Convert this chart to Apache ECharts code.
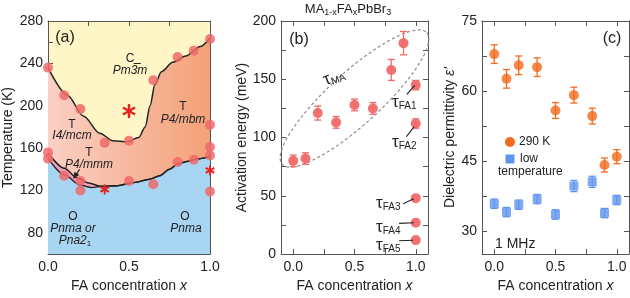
<!DOCTYPE html>
<html>
<head>
<meta charset="utf-8">
<script src="https://cdn.jsdelivr.net/npm/echarts@6/dist/echarts.min.js"></script>
<style>
  html, body { margin: 0; padding: 0; background: #fff; }
  #chart { width: 630px; height: 298px; }
</style>
</head>
<body>
<div id="chart"></div>
<script>
const FONT = '"Liberation Sans", Arial, sans-serif';
const INK = '#222';
const AXIS = '#555';

// (a) phase diagram: boundaries and measured transitions (x, T in K)
const ctBoundary = [[0, 236], [0.12, 210], [0.22, 190], [0.32, 174], [0.4, 167], [0.49, 166], [0.56, 170],
  [0.6, 180], [0.63, 200], [0.66, 220], [0.7, 232], [0.77, 241], [0.85, 247], [0.94, 256], [1, 264]];
const toBoundary = [[0, 155.5], [0.1, 141], [0.18, 132], [0.25, 127], [0.33, 124], [0.42, 124.5], [0.53, 127.5],
  [0.63, 130.7], [0.69, 134], [0.75, 140], [0.8, 145], [0.86, 147.5], [0.93, 150], [1, 152.5]];
const mmmLower = [[0, 150.5], [0.1, 135], [0.2, 125], [0.27, 122.8], [0.33, 124]];
const phaseDots = [[0, 236], [0.1, 210], [0.2, 197], [0.35, 165], [0.5, 167], [0.65, 224], [0.8, 246], [0.9, 252],
  [1, 263], [1, 182], [0, 156], [0, 150], [0.1, 134], [0.2, 129], [0.2, 120], [0.5, 129], [0.65, 126],
  [0.8, 147], [0.9, 149], [1, 161], [1, 153], [1, 119]];
const bigStar = [[0.5, 195]];
const smallStars = [[0.35, 121], [1, 139]];
const mmmArrow = [[0.195, 140, 0.158, 131.5]];

// (b) activation energies (meV)
const xMA = [0, 0.1, 0.2, 0.35, 0.5, 0.65, 0.8, 0.9];
const eaMA = [80, 82, 121, 113, 128, 125, 158, 181];
const eaMAErr = [5, 5, 6, 5, 5, 5, 9, 10];
const eaFA = [145, 112, 48, 27, 12];
const eaFAErr = [4, 4, 0, 0, 0];
const tauFA = ['FA1', 'FA2', 'FA3', 'FA4', 'FA5'];
const faLeaders = [[0.927, 137, 0.992, 144.7], [0.924, 100.8, 0.986, 109.2], [0.897, 43.3, 0.984, 47.5],
  [0.864, 26.4, 0.984, 26.9], [0.864, 11.4, 0.978, 11.9]];
const maEllipseEnds = [[-0.09, 77, 1.09, 190]];

// (c) dielectric permittivity at 1 MHz
const xEps = [0, 0.1, 0.2, 0.35, 0.5, 0.65, 0.8, 0.9, 1.0];
const eps290 = [67.9, 62.6, 65.5, 65.1, 55.8, 59.1, 54.6, 44.1, 45.9];
const eps290Err = [2, 2, 2, 2, 1.7, 1.7, 1.7, 1.5, 1.5];
const epsLow = [35.8, 34.0, 35.6, 36.8, 33.5, 39.6, 40.5, 33.8, 36.6];
const epsLowErr = [1, 1, 1, 1, 1, 1.2, 1.2, 1, 1];

const chart = echarts.init(document.getElementById('chart'));

const nameStyle = {
  fontSize: 14, color: INK, fontFamily: FONT,
  rich: { i: { fontSize: 14, color: INK, fontFamily: FONT, fontStyle: 'italic' } },
};

// main axis + mirrored axis with inward ticks
const mkAxes = (dir, grid, min, max, ticks, labels, fmt, name, gap) => {
  const base = {
    type: 'value', gridIndex: grid, min, max,
    splitLine: { show: false },
    axisLine: { onZero: false, lineStyle: { color: AXIS, width: 1 } },
    axisTick: { inside: true, length: 5, customValues: ticks, lineStyle: { color: AXIS } },
  };
  return [
    {
      ...base,
      position: dir === 'x' ? 'bottom' : 'left',
      axisLabel: { customValues: labels, formatter: fmt, margin: dir === 'x' ? 6 : 5, fontSize: 14, color: INK, fontFamily: FONT },
      name, nameLocation: 'middle', nameGap: gap, nameTextStyle: nameStyle,
    },
    { ...base, position: dir === 'x' ? 'top' : 'right', axisLabel: { show: false } },
  ];
};

const f1 = (v) => v.toFixed(1);
const f0 = (v) => String(v);
const xTicks = [0, 0.25, 0.5, 0.75, 1];
const xLabels = [0, 0.5, 1];
const xName = 'FA concentration {i|x}';

const errorBars = (color, ax, data, cap) => ({
  type: 'custom', xAxisIndex: ax, yAxisIndex: ax, data, z: 4,
  renderItem: (params, api) => {
    const x = api.value(0), y = api.value(1), e = api.value(2);
    if (!e) return { type: 'group', children: [] };
    const a = api.coord([x, y + e]);
    const b = api.coord([x, y - e]);
    const st = { stroke: color, lineWidth: 1.3 };
    return {
      type: 'group',
      children: [
        { type: 'line', shape: { x1: a[0], y1: a[1], x2: b[0], y2: b[1] }, style: st },
        { type: 'line', shape: { x1: a[0] - cap, y1: a[1], x2: a[0] + cap, y2: a[1] }, style: st },
        { type: 'line', shape: { x1: b[0] - cap, y1: b[1], x2: b[0] + cap, y2: b[1] }, style: st },
      ],
    };
  },
});

const starSeries = (data, r) => ({
  type: 'custom', xAxisIndex: 0, yAxisIndex: 0, data, z: 6, clip: false,
  renderItem: (params, api) => {
    const c = api.coord([api.value(0), api.value(1)]);
    const children = [90, 30, -30].map((deg) => {
      const t = (deg * Math.PI) / 180;
      const dx = r * Math.cos(t), dy = r * Math.sin(t);
      return {
        type: 'line',
        shape: { x1: c[0] - dx, y1: c[1] - dy, x2: c[0] + dx, y2: c[1] + dy },
        style: { stroke: '#e3241f', lineWidth: r > 6 ? 2.4 : 2 },
      };
    });
    return { type: 'group', children };
  },
});

const segmentSeries = (ax, data, arrow) => ({
  type: 'custom', xAxisIndex: ax, yAxisIndex: ax, data, z: 7, clip: false,
  renderItem: (params, api) => {
    const p = api.coord([api.value(0), api.value(1)]);
    const q = api.coord([api.value(2), api.value(3)]);
    const children = [{ type: 'line', shape: { x1: p[0], y1: p[1], x2: q[0], y2: q[1] }, style: { stroke: INK, lineWidth: 1.1 } }];
    if (arrow) {
      const ang = Math.atan2(q[1] - p[1], q[0] - p[0]);
      const L = 6, W = 3;
      const bx = q[0] - L * Math.cos(ang), by = q[1] - L * Math.sin(ang);
      children.push({
        type: 'polygon',
        shape: { points: [q, [bx - W * Math.sin(ang), by + W * Math.cos(ang)], [bx + W * Math.sin(ang), by - W * Math.cos(ang)]] },
        style: { fill: INK },
      });
    }
    return { type: 'group', children };
  },
});

const ellipseSeries = {
  type: 'custom', xAxisIndex: 2, yAxisIndex: 2, data: maEllipseEnds, z: 2, clip: false,
  renderItem: (params, api) => {
    const p = api.coord([api.value(0), api.value(1)]);
    const q = api.coord([api.value(2), api.value(3)]);
    const cx = (p[0] + q[0]) / 2, cy = (p[1] + q[1]) / 2;
    const th = Math.atan2(q[1] - p[1], q[0] - p[0]);
    const a = Math.hypot(q[0] - p[0], q[1] - p[1]) / 2;
    const b = 26;
    const pts = [];
    for (let k = 0; k <= 96; k++) {
      const t = (k / 96) * 2 * Math.PI;
      pts.push([
        cx + a * Math.cos(t) * Math.cos(th) - b * Math.sin(t) * Math.sin(th),
        cy + a * Math.cos(t) * Math.sin(th) + b * Math.sin(t) * Math.cos(th),
      ]);
    }
    return { type: 'polyline', shape: { points: pts }, style: { stroke: '#8c8c8c', fill: null, lineWidth: 1.2, lineDash: [3, 2.5] } };
  },
};

const txt = (x, y, text, o = {}) => ({
  type: 'text', x, y, z: 100, rotation: o.rotation || 0,
  style: {
    text, fill: o.color || INK, fontSize: o.size || 12, fontFamily: FONT,
    fontStyle: o.italic ? 'italic' : 'normal',
    align: o.align || 'center', verticalAlign: 'middle',
    textAlign: o.align || 'center', textVerticalAlign: 'middle',
    rich: o.rich,
  },
});

const tauRich = {
  t: { fontSize: 17, lineHeight: 18, fontFamily: FONT, fill: INK, color: INK, verticalAlign: 'middle' },
  s: { fontSize: 10, lineHeight: 8, fontFamily: FONT, fill: INK, color: INK, verticalAlign: 'bottom' },
};
const titleRich = {
  n: { fontSize: 13, lineHeight: 16, fontFamily: FONT, fill: INK, color: INK, verticalAlign: 'middle' },
  s: { fontSize: 9, lineHeight: 8, fontFamily: FONT, fill: INK, color: INK, verticalAlign: 'bottom' },
};
const pnaRich = {
  n: { fontSize: 12, lineHeight: 14, fontFamily: FONT, fontStyle: 'italic', fill: INK, color: INK, verticalAlign: 'middle' },
  s: { fontSize: 8, lineHeight: 6, fontFamily: FONT, fill: INK, color: INK, verticalAlign: 'bottom' },
};

const tauPos = [[392, 102], [392, 142], [376, 203], [376, 227], [376, 245]];

const graphic = [
  txt(348, 9, '{n|MA}{s|1-x}{n|FA}{s|x}{n|PbBr}{s|3}', { rich: titleRich }),
  txt(65, 38, '(a)', { size: 16 }),
  txt(299, 40, '(b)', { size: 16 }),
  txt(612, 39, '(c)', { size: 16 }),
  txt(130, 59, 'C', { size: 12 }),
  txt(130, 71, 'Pm3\u0305m', { italic: true }),
  txt(72, 125, 'T'),
  txt(72, 136, 'I4/mcm', { italic: true }),
  txt(183, 107, 'T'),
  txt(183, 120, 'P4/mbm', { italic: true }),
  txt(89, 153, 'T'),
  txt(89, 165, 'P4/mmm', { italic: true }),
  txt(73, 217, 'O'),
  txt(73, 229, 'Pnma or', { italic: true }),
  txt(75, 241, '{n|Pna2}{s|1}', { rich: pnaRich }),
  txt(185, 217, 'O'),
  txt(186, 229, 'Pnma', { italic: true }),
  txt(334, 77, '{t|τ}{s|MA}', { rich: tauRich, rotation: 0.35 }),
  ...tauFA.map((s, i) => txt(tauPos[i][0], tauPos[i][1], '{t|τ}{s|' + s + '}', { rich: tauRich, align: 'left' })),
  { type: 'circle', x: 510, y: 142, z: 100, shape: { cx: 0, cy: 0, r: 5 }, style: { fill: '#f26b1f' } },
  txt(519, 142, '290 K', { align: 'left' }),
  { type: 'rect', x: 505.5, y: 154.5, z: 100, shape: { x: 0, y: 0, width: 9, height: 9 }, style: { fill: '#5f95ee' } },
  txt(520, 159, 'low', { align: 'left' }),
  txt(498, 172, 'temperature', { align: 'left' }),
  txt(495, 244, '1 MHz', { align: 'left', size: 14 }),
];

chart.setOption({
  animation: false,
  textStyle: { fontFamily: FONT },
  grid: [
    { left: 48, top: 21, width: 162, height: 239, show: true, backgroundColor: '#fef6c6', borderWidth: 0 },
    { left: 281, top: 21, width: 147, height: 240 },
    { left: 482, top: 21, width: 147, height: 240 },
  ],
  xAxis: [
    ...mkAxes('x', 0, 0, 1, xTicks, xLabels, f1, xName, 24),
    ...mkAxes('x', 1, -0.1, 1.1, xTicks, xLabels, f1, xName, 24),
    ...mkAxes('x', 2, -0.1, 1.1, xTicks, xLabels, f1, xName, 24),
  ],
  yAxis: [
    ...mkAxes('y', 0, 60, 280, [80, 100, 120, 140, 160, 180, 200, 220, 240, 260, 280], [80, 120, 160, 200, 240, 280], f0, 'Temperature (K)', 33),
    ...mkAxes('y', 1, 0, 200, [0, 25, 50, 75, 100, 125, 150, 175, 200], [0, 50, 100, 150, 200], f0, 'Activation energy (meV)', 28),
    ...mkAxes('y', 2, 25, 75, [30, 37.5, 45, 52.5, 60, 67.5, 75], [30, 45, 60, 75], f0, 'Dielectric permittivity {i|ε\'}', 22),
  ],
  graphic,
  series: [
    {
      type: 'line', xAxisIndex: 0, yAxisIndex: 0, data: ctBoundary, smooth: 0.3, smoothMonotone: 'x',
      symbol: 'none', lineStyle: { color: INK, width: 1.5 },
      areaStyle: {
        origin: 'start', opacity: 1,
        color: new echarts.graphic.LinearGradient(0, 0, 1, 0, [
          { offset: 0, color: '#fad0c5' },
          { offset: 1, color: '#f4a177' },
        ]),
      },
    },
    {
      type: 'line', xAxisIndex: 0, yAxisIndex: 0, data: toBoundary.filter((p) => p[0] <= 0.42),
      smooth: 0.3, smoothMonotone: 'x', symbol: 'none', lineStyle: { width: 0 },
      areaStyle: { origin: 'start', opacity: 1, color: '#f1a2b8' },
    },
    {
      type: 'line', xAxisIndex: 0, yAxisIndex: 0, data: mmmLower.concat(toBoundary.filter((p) => p[0] > 0.33)),
      smooth: 0.3, smoothMonotone: 'x', symbol: 'none', lineStyle: { color: INK, width: 1.3 },
      areaStyle: { origin: 'start', opacity: 1, color: '#a8d5f1' },
    },
    {
      type: 'line', xAxisIndex: 0, yAxisIndex: 0, data: toBoundary, smooth: 0.3, smoothMonotone: 'x',
      symbol: 'none', lineStyle: { color: INK, width: 1.5 },
    },
    {
      type: 'scatter', xAxisIndex: 0, yAxisIndex: 0, data: phaseDots, symbolSize: 10, z: 5,
      itemStyle: { color: '#f06a6a', opacity: 0.85 },
    },
    starSeries(bigStar, 7),
    starSeries(smallStars, 5),
    segmentSeries(0, mmmArrow, true),

    ellipseSeries,
    errorBars('#f06a6a', 2, xMA.map((x, i) => [x, eaMA[i], eaMAErr[i]]), 3.5),
    errorBars('#f06a6a', 2, eaFA.map((v, i) => [1, v, eaFAErr[i]]), 3.5),
    {
      type: 'scatter', xAxisIndex: 2, yAxisIndex: 2, symbolSize: 10, z: 5,
      data: xMA.map((x, i) => [x, eaMA[i]]).concat(eaFA.map((v) => [1, v])),
      itemStyle: { color: '#f06a6a', opacity: 0.95 },
    },
    segmentSeries(2, faLeaders, false),

    errorBars('#f26b1f', 4, xEps.map((x, i) => [x, eps290[i], eps290Err[i]]), 3.5),
    errorBars('#5f95ee', 4, xEps.map((x, i) => [x, epsLow[i], epsLowErr[i]]), 3.5),
    {
      type: 'scatter', xAxisIndex: 4, yAxisIndex: 4, symbolSize: 10, z: 5,
      data: xEps.map((x, i) => [x, eps290[i]]), itemStyle: { color: '#f26b1f' },
    },
    {
      type: 'scatter', xAxisIndex: 4, yAxisIndex: 4, symbol: 'rect', symbolSize: 9, z: 5,
      data: xEps.map((x, i) => [x, epsLow[i]]), itemStyle: { color: '#5f95ee' },
    },
  ],
});
</script>
</body>
</html>
